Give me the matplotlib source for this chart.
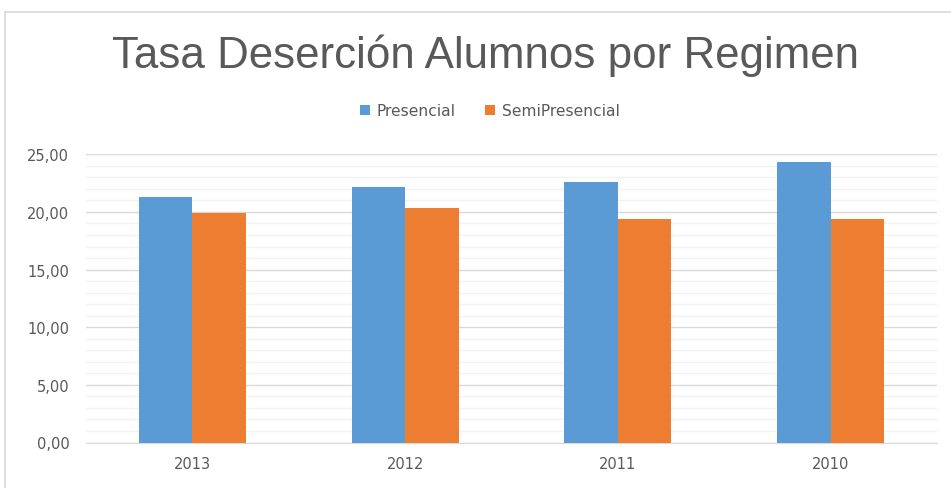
import matplotlib
matplotlib.use("Agg")
import matplotlib.pyplot as plt
from matplotlib.lines import Line2D
import numpy as np

years = ["2013", "2012", "2011", "2010"]
presencial = [21.32, 22.16, 22.59, 24.30]
semipresencial = [19.90, 20.34, 19.36, 19.36]

W, H = 951, 489
fig = plt.figure(figsize=(W / 100, H / 100), dpi=100)
fig.patch.set_facecolor("white")

# chart frame (only left and top edges are inside the crop)
bx, by = 4.5 / W, 1 - 12.5 / H
fig.lines.append(Line2D([bx, bx], [0, by], transform=fig.transFigure,
                        color="#d9d9d9", linewidth=1.2))
fig.lines.append(Line2D([bx, 1], [by, by], transform=fig.transFigure,
                        color="#d9d9d9", linewidth=1.2))

left, right = 86 / W, 937 / W
bottom, top = 1 - 443.5 / H, 1 - 155.3 / H
ax = fig.add_axes([left, bottom, right - left, top - bottom])

x = np.arange(len(years)) + 0.5
w = 0.252
ax.bar(x - w / 2, presencial, w, color="#5b9bd5", label="Presencial", zorder=3)
ax.bar(x + w / 2, semipresencial, w, color="#ed7d31", label="SemiPresencial", zorder=3)

ax.set_xlim(0, len(years))
ax.set_ylim(0, 25)
ax.set_yticks(np.arange(0, 26, 5))
ax.set_yticks(np.arange(0, 26, 1), minor=True)
ax.set_yticklabels([f"{v:.2f}".replace(".", ",") for v in np.arange(0, 26, 5)])
ax.set_xticks(x)
ax.set_xticklabels(years)

ax.grid(axis="y", which="minor", color="#f2f2f2", linewidth=1.0, zorder=0)
ax.grid(axis="y", which="major", color="#d9d9d9", linewidth=1.0, zorder=1)
for s in ["top", "right", "left"]:
    ax.spines[s].set_visible(False)
ax.spines["bottom"].set_color("#d9d9d9")
ax.tick_params(axis="both", which="both", length=0, colors="#595959", labelsize=10.5)
ax.tick_params(axis="y", pad=12)
ax.tick_params(axis="x", pad=10)

fig.text(485 / W, 1 - 68 / H, "Tasa Deserción Alumnos por Regimen", ha="center",
         va="baseline", fontsize=31.6, color="#595959", family="Liberation Sans")

fig.legend(loc="center", bbox_to_anchor=(490 / W, 1 - 112 / H), ncol=2, frameon=False,
           fontsize=11.2, labelcolor="#595959", handlelength=0.65, handleheight=0.65,
           handletextpad=0.45, columnspacing=1.9)

fig.savefig("out.png", dpi=100)
